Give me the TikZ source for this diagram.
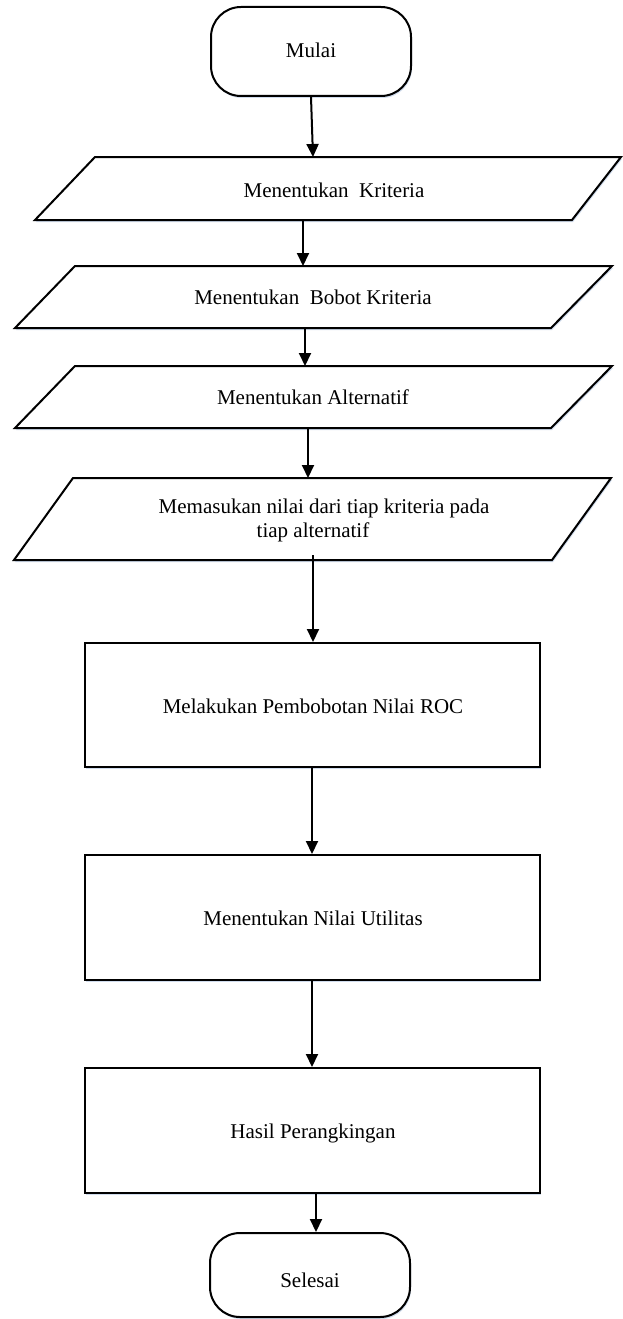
\documentclass[tikz,border=0pt]{standalone}
\usepackage{fontspec}
\setmainfont{Liberation Serif}
\usetikzlibrary{arrows.meta,shadows,calc}
\definecolor{shadowc}{RGB}{208,220,237}
\begin{document}
\begin{tikzpicture}[x=1pt,y=-1pt,
  shp/.style={draw=black, line width=2pt, fill=white,
    drop shadow={shadow xshift=1pt, shadow yshift=-2pt, fill=shadowc, opacity=1}},
  term/.style={shp, rounded corners=30pt, inner sep=0pt, minimum width=200pt},
  proc/.style={shp, inner sep=0pt, minimum width=455pt},
  txt/.style={font=\fontsize{21pt}{24pt}\selectfont, inner sep=0pt, anchor=base, align=center},
  arr/.style={line width=2pt, -{Triangle[length=13pt,width=12pt]}}]
\fill[white] (0,0) rectangle (622,1319);
\useasboundingbox (0,0) rectangle (622,1319);

% start
\node[term, minimum height=89pt] (mulai) at (311,51.5) {};
\node[txt] (tmulai) at (311,58) {Mulai};

% input parallelograms
\draw[shp] (95,157) -- (621,157) -- (572,220) -- (35,220) -- cycle;
\node[txt] (t1) at (334,197) {Menentukan\ \ Kriteria};
\coordinate (p1top) at (313,157);
\coordinate (p1bot) at (303,220);

\draw[shp] (75,266) -- (612,266) -- (551,328) -- (15,328) -- cycle;
\node[txt] (t2) at (313,304) {Menentukan\ \ Bobot Kriteria};
\coordinate (p2top) at (303,266);
\coordinate (p2bot) at (305,328);

\draw[shp] (75,366) -- (612,366) -- (551,428) -- (15,428) -- cycle;
\node[txt] (t3) at (313,404) {Menentukan Alternatif};
\coordinate (p3top) at (305,366);
\coordinate (p3bot) at (308,428);

\draw[shp] (73,478) -- (611,478) -- (552,560) -- (14,560) -- cycle;
\node[txt] (t4a) at (324,513) {Memasukan nilai dari tiap kriteria pada};
\node[txt] (t4b) at (313,537) {tiap alternatif};
\coordinate (p4top) at (308,478);
\coordinate (p4out) at (313,555);

% process boxes
\node[proc, minimum height=124pt] (r1) at (312,705) {};
\node[txt] (tr1) at (313,713) {Melakukan Pembobotan Nilai ROC};
\node[proc, minimum height=125pt] (r2) at (312,917.5) {};
\node[txt] (tr2) at (313,925) {Menentukan Nilai Utilitas};
\node[proc, minimum height=125pt] (r3) at (312,1130.5) {};
\node[txt] (tr3) at (313,1138) {Hasil Perangkingan};

% end
\node[term, minimum height=84pt] (selesai) at (310,1275) {};
\node[txt] (tselesai) at (310,1287) {Selesai};

% connectors
\draw[arr] (mulai.south) -- (p1top);
\draw[arr] (p1bot) -- (p2top);
\draw[arr] (p2bot) -- (p3top);
\draw[arr] (p3bot) -- (p4top);
\draw[arr] (p4out) -- (p4out |- r1.north);
\draw[arr] (r1.south) -- (r2.north);
\draw[arr] (r2.south) -- (r3.north);
\draw[arr] ([xshift=4pt]r3.south) -- ([xshift=4pt]r3.south |- selesai.north);
\end{tikzpicture}
\end{document}
